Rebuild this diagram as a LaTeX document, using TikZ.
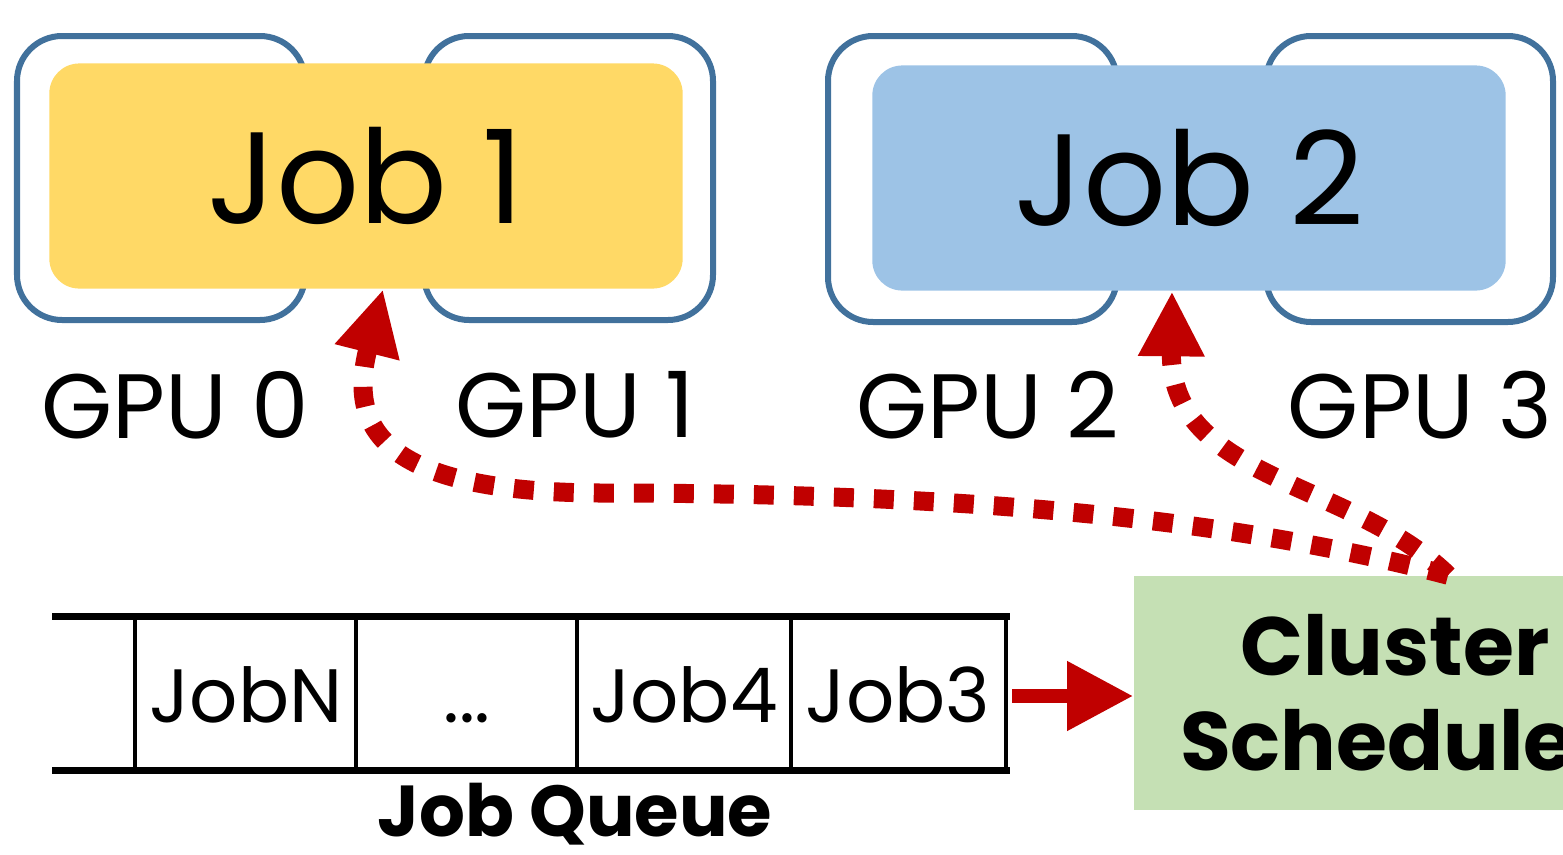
\documentclass[tikz,border=0pt]{standalone}
\usepackage{fontspec}
\setmainfont{Poppins}
\usetikzlibrary{arrows.meta}
\definecolor{gpublue}{HTML}{41719C}
\definecolor{jobyellow}{HTML}{FFD966}
\definecolor{jobblue}{HTML}{9DC3E6}
\definecolor{schedgreen}{HTML}{C5E0B4}
\definecolor{arrowred}{HTML}{C00000}
\tikzset{
  gpubox/.style={draw=gpublue,line width=0.06cm,rounded corners=0.45cm},
  jobbox/.style={rounded corners=0.3cm,minimum width=6.33cm,minimum height=2.25cm,font=\fontsize{37}{44}\selectfont},
  gpulabel/.style={font=\fontsize{26}{30}\selectfont},
  cell/.style={minimum width=2.15cm,text height=0.55cm,text depth=0.02cm,font=\fontsize{21.5}{26}\selectfont},
  dotarrow/.style={arrowred,line width=0.19cm,dash pattern=on 0.2cm off 0.2cm,-{Triangle[length=0.65cm,width=0.62cm]}},
  solidarrow/.style={arrowred,line width=0.14cm,-{Triangle[length=0.66cm,width=0.66cm]}}
}
\begin{document}
\begin{tikzpicture}[x=0.01cm,y=-0.01cm]
    \def\qleft{52} \def\qright{1010} % queue
    \def\qtop{616} \def\qbot{770}
    \clip (0,0) rectangle (1563,854);
    \useasboundingbox (0,0) rectangle (1563,854);
    % GPUs
    \draw[gpubox] (17,36) rectangle (305,320);
    \draw[gpubox] (424,36) rectangle (713,320);
    \draw[gpubox] (828,36) rectangle (1117,322);
    \draw[gpubox] (1266,36) rectangle (1553,322);
    \node[gpulabel] (g0) at (175,405) {GPU 0};
    \node[gpulabel] (g1) at (575,405) {GPU 1};
    \node[gpulabel] (g2) at (988,405) {GPU 2};
    \node[gpulabel] (g3) at (1420,405) {GPU 3};
    % jobs
    \node[jobbox,fill=jobyellow] (j1) at (366,176) {Job 1};
    \node[jobbox,fill=jobblue] (j2) at (1189,178) {Job 2};
    % queue
    \draw[line width=0.07cm] (\qleft,\qtop)--(\qright,\qtop);
    \draw[line width=0.07cm] (\qleft,\qbot)--(\qright,\qbot);
    \foreach \x in {135,356,577,791,1006}
        \draw[line width=0.045cm] (\x,\qtop)--(\x,\qbot);
    \node[cell] (qn) at (246,696) {JobN};
    \node[cell] (qd) at (467,696) {...};
    \node[cell] (q4) at (684,696) {Job4};
    \node[cell] (q3) at (898,696) {Job3};
    \node[inner sep=0pt,font=\fontsize{20.5}{24}\selectfont\bfseries] (ql) at (575,814) {Job Queue};
    % scheduler
    \node[fill=schedgreen,minimum width=5.22cm,minimum height=2.34cm,align=center,
          font=\fontsize{23.5}{27}\selectfont\bfseries] (sched) at (1395,693) {Cluster\\Scheduler};
    \draw[solidarrow,shorten <=0.06cm] (q3.east) -- (q3.east-|sched.west);
    \draw[dotarrow] ([xshift=0.53cm]sched.north) .. controls (1200,510) and (900,493) .. (600,493)
        .. controls (370,492) and (350,420) .. (j1.south-|383,0);
    \draw[dotarrow] ([xshift=0.53cm]sched.north) .. controls (1350,480) and (1170,480) .. (j2.south-|1172,0);
\end{tikzpicture}
\end{document}
